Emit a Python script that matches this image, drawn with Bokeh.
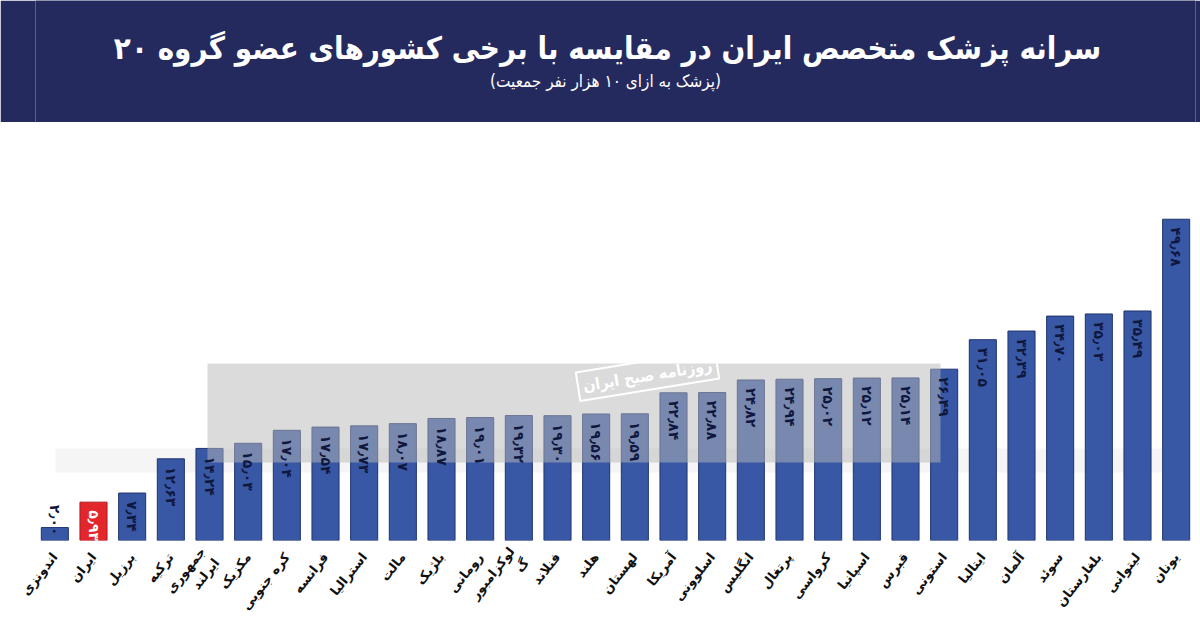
from bokeh.plotting import figure
from bokeh.models import Range1d, FactorRange, ColumnDataSource, BoxAnnotation, Label
from bokeh.layouts import column
from bokeh.embed import file_html
from bokeh.resources import INLINE
from bokeh.core.properties import value
import math

# ---------------- data ----------------
countries = ["اندونزی", "ایران", "برزیل", "ترکیه", "جمهوری\nایرلند", "مکزیک", "کره جنوبی",
             "فرانسه", "استرالیا", "مالت", "بلژیک", "رومانی", "لوکزامبور\nگ", "فنلاند",
             "هلند", "لهستان", "آمریکا", "اسلوونی", "انگلیس", "پرتغال", "کرواسی",
             "اسپانیا", "قبرس", "استونی", "ایتالیا", "آلمان", "سوئد", "بلغارستان",
             "لیتوانی", "یونان"]
values = [2.00, 5.93, 7.34, 12.63, 14.24, 15.03, 17.04, 17.54, 17.73, 18.07, 18.87, 19.01,
          19.32, 19.30, 19.56, 19.59, 22.84, 22.88, 24.82, 24.94, 25.02, 25.12, 25.14,
          26.49, 31.05, 32.39, 34.70, 35.03, 35.49, 49.68]
value_labels = ["۲٫۰۰", "۵٫۹۳", "۷٫۳۴", "۱۲٫۶۳", "۱۴٫۲۴", "۱۵٫۰۳", "۱۷٫۰۴", "۱۷٫۵۴", "۱۷٫۷۳",
                "۱۸٫۰۷", "۱۸٫۸۷", "۱۹٫۰۱", "۱۹٫۳۲", "۱۹٫۳۰", "۱۹٫۵۶", "۱۹٫۵۹", "۲۲٫۸۴",
                "۲۲٫۸۸", "۲۴٫۸۲", "۲۴٫۹۴", "۲۵٫۰۲", "۲۵٫۱۲", "۲۵٫۱۴", "۲۶٫۴۹", "۳۱٫۰۵",
                "۳۲٫۳۹", "۳۴٫۷۰", "۳۵٫۰۳", "۳۵٫۴۹", "۴۹٫۶۸"]
highlight = "ایران"
title_text = "سرانه پزشک متخصص ایران در مقایسه با برخی کشورهای عضو گروه ۲۰"
subtitle_text = "(پزشک به ازای ۱۰ هزار نفر جمعیت)"
watermark_text = "روزنامه صبح ایران"

FONT = "DejaVu Sans"
NAVY = "#242a5e"

W = 1200
BH = 122
LB, RB = 35, 5

# ---------------- banner ----------------
banner = figure(width=W, height=BH, x_range=Range1d(LB, W - RB), y_range=Range1d(BH, 0),
                output_backend="svg", toolbar_location=None,
                min_border_left=LB, min_border_right=RB, min_border_top=0, min_border_bottom=0)
banner.axis.visible = False
banner.grid.visible = False
banner.outline_line_color = None
banner.background_fill_color = NAVY
banner.border_fill_color = NAVY
banner.text(x=[607], y=[47], text=[title_text], text_font=value("DejaVu Sans Condensed"),
            text_font_style="bold", text_font_size="31px", text_color="white",
            text_align="center", text_baseline="middle")
banner.text(x=[605], y=[80], text=[subtitle_text], text_font=value("DejaVu Sans Condensed"),
            text_font_size="17px", text_color="white", text_align="center", text_baseline="middle")

# ---------------- chart ----------------
colors = ["#e3262c" if c == highlight else "#3858a6" for c in countries]
lcolors = ["#b01a1f" if c == highlight else "#1f336e" for c in countries]
lab_colors = ["white" if c == highlight else "#10173d" for c in countries]
short = [v < 4 for v in values]
lab_y = [0 if s else v for s, v in zip(short, values)]
lab_align = ["right" if s else "left" for s in short]
lab_off = [-5 if s else 8 for s in short]

src = ColumnDataSource(dict(c=countries, v=values, fill=colors, line=lcolors, lab=value_labels,
                            labc=lab_colors, laby=lab_y, laba=lab_align, labo=lab_off))

p = figure(width=W, height=634 - BH, x_range=FactorRange(*countries), y_range=Range1d(0, 60),
           output_backend="svg", toolbar_location=None,
           min_border_left=LB, min_border_right=RB, min_border_top=30, min_border_bottom=94)
p.outline_line_color = None
p.grid.visible = False
p.yaxis.visible = False
p.background_fill_color = "white"

# faint reflection strip behind bars
p.add_layout(BoxAnnotation(left=20, right=1150, top=92, bottom=68,
                           left_units="screen", right_units="screen",
                           top_units="screen", bottom_units="screen",
                           fill_color="#cfcfcf", fill_alpha=0.2, line_color=None, level="underlay"))

p.vbar(x="c", top="v", width=0.7, source=src, fill_color="fill", line_color="line", line_width=1)

# watermark band (frame-relative screen units, y measured from frame bottom)
p.add_layout(BoxAnnotation(left=172, right=905, top=177, bottom=78,
                           left_units="screen", right_units="screen",
                           top_units="screen", bottom_units="screen",
                           fill_color="#b8b8b8", fill_alpha=0.5, line_color=None, level="glyph"))

p.text(x="c", y="laby", text="lab", source=src, angle=-math.pi / 2, text_align="laba",
       text_baseline="middle", y_offset="labo", text_font=value(FONT), text_font_style="bold",
       text_font_size="14px", text_color="labc", level="overlay")

p.add_layout(Label(x=612, y=165, x_units="screen", y_units="screen", text=watermark_text,
                   angle=0.16, text_align="center", text_baseline="middle",
                   text_font="DejaVu Sans Condensed", text_font_size="16px", text_font_style="bold",
                   text_color="white", border_line_color="white", border_line_width=2,
                   padding=5, level="overlay"))

ax = p.xaxis[0]
ax.axis_line_color = None
ax.major_tick_line_color = None
ax.minor_tick_line_color = None
ax.major_label_orientation = 0.9
ax.major_label_standoff = 8
ax.major_label_text_font = FONT
ax.major_label_text_font_size = "13px"
ax.major_label_text_font_style = "bold"
ax.major_label_text_color = "#111111"

layout = column(banner, p, spacing=0)
open("out.html", "w").write(file_html(layout, INLINE))
